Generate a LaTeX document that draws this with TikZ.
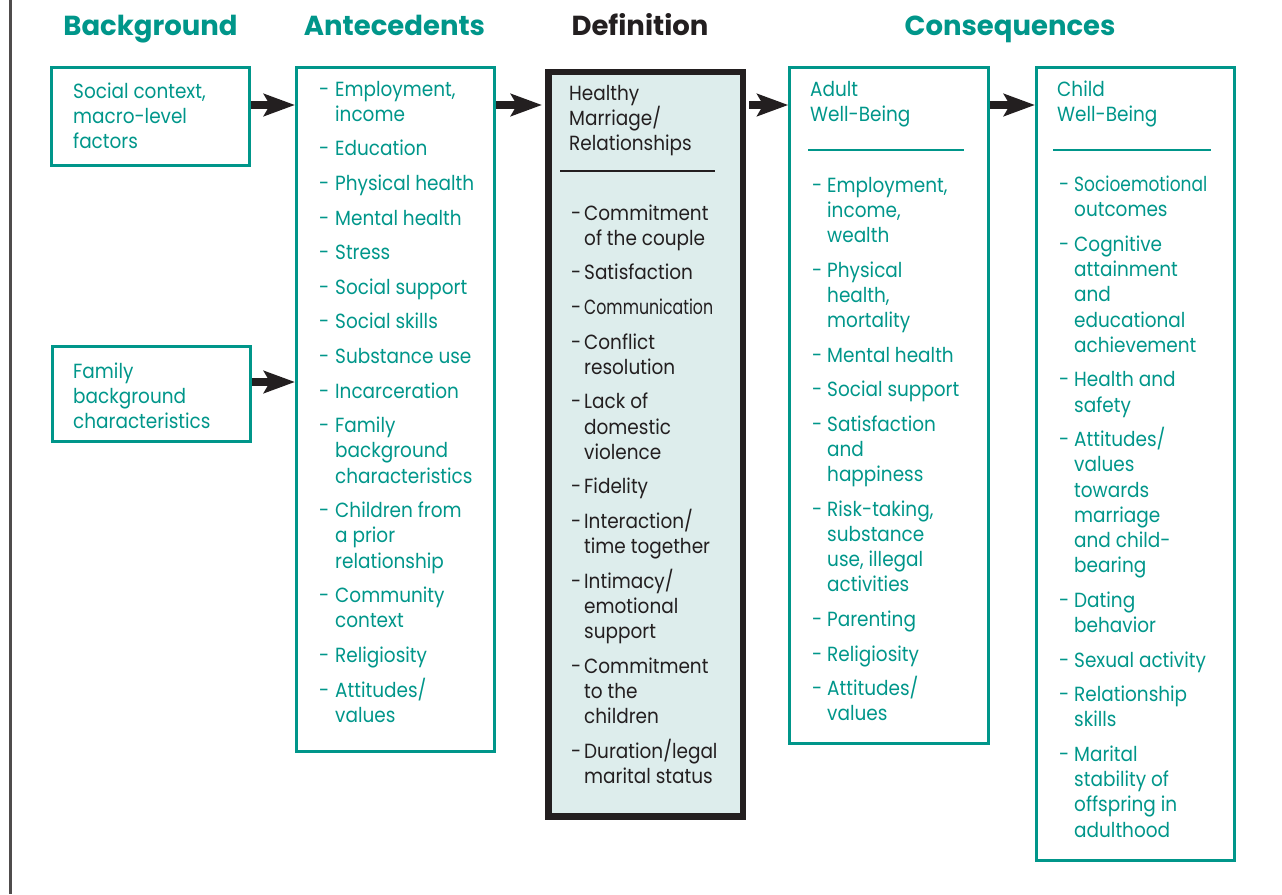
\documentclass[tikz,border=0pt]{standalone}
\usepackage{fontspec}
\setmainfont[FakeStretch=0.9]{Poppins}
\newfontfamily\hdfont{Poppins}
\newfontfamily\condA[FakeStretch=0.77]{Poppins}
\newfontfamily\condB[FakeStretch=0.83]{Poppins}
\usetikzlibrary{arrows.meta}
\definecolor{tealc}{RGB}{0,150,138}
\definecolor{darktxt}{RGB}{35,31,32}
\definecolor{deffill}{RGB}{221,237,236}
\newlength\dashw
\newcommand\Dl[1]{\hbox{\makebox[\dashw][l]{-}#1}}
\newcommand\Cl[1]{\hbox{\hspace*{\dashw}#1}}
\newcommand\Pl[1]{\hbox{#1}}
\newcommand\Gp{\vskip 9.4pt}
\newcommand\Blk[2]{\vtop{\setlength\dashw{#1}\baselineskip=25.2pt\lineskiplimit=-100pt\lineskip=0pt #2}}
\begin{document}
\begin{tikzpicture}[x=1pt,y=-1pt,
  tealbox/.style={draw=tealc, line width=3pt, inner sep=0pt, anchor=north west},
  defbox/.style={draw=darktxt, fill=deffill, line width=6.5pt, inner sep=0pt, anchor=north west},
  bigarrow/.style={draw=darktxt, line width=8pt, -{Stealth[length=31pt,width=22pt,inset=6pt]}},
  header/.style={anchor=base, inner sep=0pt, font=\hdfont\bfseries\fontsize{27.5}{30}\selectfont},
  txt/.style={anchor=base west, inner sep=0pt, text=tealc, font=\fontsize{20.5}{25.2}\selectfont},
  dtxt/.style={txt, text=darktxt},
  rule/.style={line width=2.5pt}
]
\useasboundingbox (0,0) rectangle (1282,894);
\draw[line width=2.5pt, darktxt!80] (10.5,0) -- (10.5,894);

% headers
\node[header, text=tealc] (hbg) at (150.5,35) {Background};
\node[header, text=tealc] (hant) at (394.5,35) {Antecedents};
\node[header, text=darktxt] (hdef) at (640,35) {Definition};
\node[header, text=tealc] (hcon) at (1010,35) {Consequences};

% boxes
\node[tealbox, minimum width=198pt, minimum height=98pt] (social) at (50,66) {};
\node[tealbox, minimum width=198pt, minimum height=95pt] (family) at (51,345) {};
\node[tealbox, minimum width=198pt, minimum height=684pt] (ante) at (295,66) {};
\node[defbox, minimum width=194.5pt, minimum height=744.5pt] (def) at (545,68.5) {};
\node[tealbox, minimum width=198.4pt, minimum height=676pt] (adult) at (788.3,66) {};
\node[tealbox, minimum width=198.3pt, minimum height=793pt] (child) at (1035,66) {};

% rules
\draw[rule, darktxt] (560,171) -- (715,171);
\draw[rule, tealc] (808,150) -- (964,150);
\draw[rule, tealc] (1053,150) -- (1211,150);

% arrows
\coordinate (row) at (0,105);
\coordinate (famrow) at (0,382);
\draw[bigarrow] (social.east |- row) -- (ante.west |- row);
\draw[bigarrow] (family.east |- famrow) -- (ante.west |- famrow);
\draw[bigarrow] (ante.east |- row) -- ([xshift=-3pt]def.west |- row);
\draw[bigarrow] ([xshift=3pt]def.east |- row) -- (adult.west |- row);
\draw[bigarrow] (adult.east |- row) -- (child.west |- row);

% texts
\node[txt] (socialtxt) at (73,98) {\Blk{0pt}{\Pl{Social context,}\Pl{macro-level}\Pl{factors}}};
\node[txt] (familytxt) at (73,378) {\Blk{0pt}{\Pl{Family}\Pl{background}\Pl{characteristics}}};

\node[txt] (antetxt) at (319,96) {\Blk{16pt}{%
\Dl{Employment,}\Cl{income}\Gp
\Dl{Education}\Gp
\Dl{Physical health}\Gp
\Dl{Mental health}\Gp
\Dl{Stress}\Gp
\Dl{Social support}\Gp
\Dl{Social skills}\Gp
\Dl{Substance use}\Gp
\Dl{Incarceration}\Gp
\Dl{Family}\Cl{background}\Cl{characteristics}\Gp
\Dl{Children from}\Cl{a prior}\Cl{relationship}\Gp
\Dl{Community}\Cl{context}\Gp
\Dl{Religiosity}\Gp
\Dl{Attitudes/}\Cl{values}}};

\node[dtxt] (defhead) at (569,100) {\Blk{0pt}{\Pl{Healthy}\Pl{Marriage/}\Pl{Relationships}}};
\node[dtxt] (deftxt) at (571,220) {\Blk{13pt}{%
\Dl{Commitment}\Cl{of the couple}\Gp
\Dl{Satisfaction}\Gp
\Dl{{\condA Communication}}\Gp
\Dl{Conflict}\Cl{resolution}\Gp
\Dl{Lack of}\Cl{domestic}\Cl{violence}\Gp
\Dl{Fidelity}\Gp
\Dl{Interaction/}\Cl{time together}\Gp
\Dl{Intimacy/}\Cl{emotional}\Cl{support}\Gp
\Dl{Commitment}\Cl{to the}\Cl{children}\Gp
\Dl{Duration/legal}\Cl{marital status}}};

\node[txt] (adulthead) at (810,96.7) {\Blk{0pt}{\Pl{Adult}\Pl{Well-Being}}};
\node[txt] (adulttxt) at (812,192) {\Blk{15pt}{%
\Dl{Employment,}\Cl{income,}\Cl{wealth}\Gp
\Dl{Physical}\Cl{health,}\Cl{mortality}\Gp
\Dl{Mental health}\Gp
\Dl{Social support}\Gp
\Dl{Satisfaction}\Cl{and}\Cl{happiness}\Gp
\Dl{Risk-taking,}\Cl{substance}\Cl{use, illegal}\Cl{activities}\Gp
\Dl{Parenting}\Gp
\Dl{Religiosity}\Gp
\Dl{Attitudes/}\Cl{values}}};

\node[txt] (childhead) at (1057,96.7) {\Blk{0pt}{\Pl{Child}\Pl{Well-Being}}};
\node[txt] (childtxt) at (1059,191.7) {\Blk{15pt}{%
\Dl{{\condB Socioemotional}}\Cl{outcomes}\Gp
\Dl{Cognitive}\Cl{attainment}\Cl{and}\Cl{educational}\Cl{achievement}\Gp
\Dl{Health and}\Cl{safety}\Gp
\Dl{Attitudes/}\Cl{values}\Cl{towards}\Cl{marriage}\Cl{and child-}\Cl{bearing}\Gp
\Dl{Dating}\Cl{behavior}\Gp
\Dl{Sexual activity}\Gp
\Dl{Relationship}\Cl{skills}\Gp
\Dl{Marital}\Cl{stability of}\Cl{offspring in}\Cl{adulthood}}};
\end{tikzpicture}
\end{document}
